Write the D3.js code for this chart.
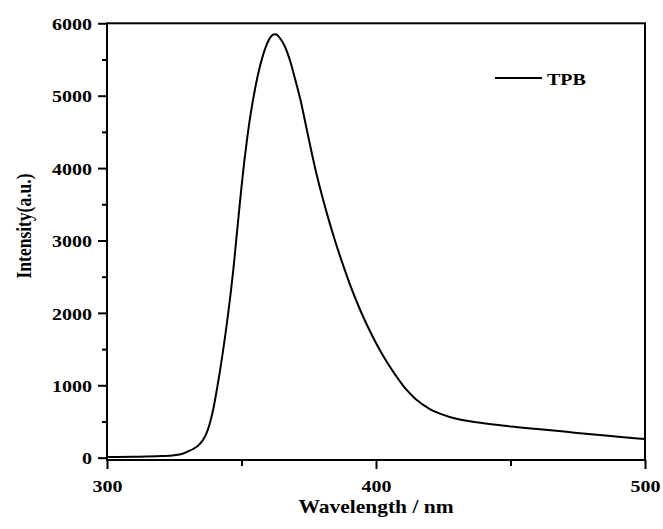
<!DOCTYPE html>
<html>
<head>
<meta charset="utf-8">
<script src="https://cdn.jsdelivr.net/npm/d3@7"></script>
<style>
  body { margin: 0; background: #fff; }
  text { font-family: "Liberation Serif", "Times New Roman", serif; font-weight: bold; fill: #000; }
</style>
</head>
<body>
<div id="chart"></div>
<script>
// spectrum
const wavelength = [300, 310, 320, 325, 328, 330, 332, 334, 335, 336, 337, 338, 339, 340, 341, 342,
    343, 344, 345, 346, 347, 348, 349, 350, 351, 352, 353, 354, 356, 358, 360, 361, 362, 363, 364,
    366, 368, 370, 372, 374, 376, 378, 380, 382, 384, 386, 388, 390, 392, 394, 396, 398, 400, 402,
    404, 406, 408, 410, 412, 414, 416, 418, 420, 424, 428, 432, 436, 440, 450, 460, 470, 480, 490, 500];
const intensity = [8, 12, 22, 35, 55, 85, 120, 170, 210, 265, 340, 445, 585, 765, 975, 1200,
    1440, 1700, 1980, 2280, 2610, 2990, 3370, 3740, 4080, 4380, 4650, 4880, 5270, 5560, 5760, 5820, 5850, 5845, 5810,
    5690, 5490, 5220, 4930, 4580, 4230, 3900, 3610, 3340, 3090, 2855, 2635, 2425, 2230, 2050, 1885, 1730, 1585, 1450,
    1325, 1210, 1100, 1000, 912, 836, 772, 718, 672, 605, 556, 520, 495, 476, 432, 396, 360, 323, 290, 258];
const seriesName = "TPB";
const xMajor = [300, 400, 500];
const xMinor = [350, 450];
const yMajor = [0, 1000, 2000, 3000, 4000, 5000, 6000];
const yMinor = [500, 1500, 2500, 3500, 4500, 5500];

const W = 663, H = 529;
const plot = { left: 107, right: 645, top: 23.3, bottom: 460 };
const squash = "scale(1,0.875)"; // the picture is a bit flattened vertically

const svg = d3.select("#chart").append("svg")
    .attr("width", W)
    .attr("height", H);

const x = d3.scaleLinear().domain([300, 500]).range([plot.left, plot.right]);
const y = d3.scaleLinear().domain([-32, 6000]).range([plot.bottom, plot.top]);

// y axis
const yAxis = svg.append("g").attr("transform", `translate(${plot.left},0)`)
    .call(d3.axisLeft(y).tickValues(yMajor).tickSize(9).tickFormat(d3.format("d")));
yAxis.select(".domain").remove();
yAxis.selectAll("line").attr("stroke", "#000").attr("stroke-width", 2);
yAxis.selectAll("text")
    .attr("x", -15).attr("dy", "0.35em")
    .attr("transform", squash)
    .style("font-size", "20px");

const yMinorAxis = svg.append("g").attr("transform", `translate(${plot.left},0)`)
    .call(d3.axisLeft(y).tickValues(yMinor).tickSize(5).tickFormat(""));
yMinorAxis.select(".domain").remove();
yMinorAxis.selectAll("line").attr("stroke", "#000").attr("stroke-width", 2);

// x axis
const xAxis = svg.append("g").attr("transform", `translate(0,${plot.bottom})`)
    .call(d3.axisBottom(x).tickValues(xMajor).tickSize(9).tickFormat(d3.format("d")));
xAxis.select(".domain").remove();
xAxis.selectAll("line").attr("stroke", "#000").attr("stroke-width", 2);
xAxis.selectAll("text")
    .attr("y", 0).attr("dy", null)
    .attr("transform", `translate(0,32) ${squash}`)
    .style("font-size", "20px");

const xMinorAxis = svg.append("g").attr("transform", `translate(0,${plot.bottom})`)
    .call(d3.axisBottom(x).tickValues(xMinor).tickSize(6).tickFormat(""));
xMinorAxis.select(".domain").remove();
xMinorAxis.selectAll("line").attr("stroke", "#000").attr("stroke-width", 2);

// frame
svg.append("rect")
    .attr("x", plot.left).attr("y", plot.top)
    .attr("width", plot.right - plot.left).attr("height", plot.bottom - plot.top)
    .attr("fill", "none")
    .attr("stroke", "#000")
    .attr("stroke-width", 2);

// curve
const data = wavelength.map((w, i) => ({ w: w, v: intensity[i] }));
const line = d3.line()
    .x(d => x(d.w))
    .y(d => y(d.v))
    .curve(d3.curveMonotoneX);

svg.append("path")
    .datum(data)
    .attr("d", line)
    .attr("fill", "none")
    .attr("stroke", "#000")
    .attr("stroke-width", 2);

// legend
svg.append("line")
    .attr("x1", 495).attr("x2", 542)
    .attr("y1", 78).attr("y2", 78)
    .attr("stroke", "#000")
    .attr("stroke-width", 2);
svg.append("text")
    .attr("transform", `translate(547,84.5) ${squash}`)
    .style("font-size", "20px")
    .text(seriesName);

// axis titles
svg.append("text")
    .attr("transform", `translate(${(plot.left + plot.right) / 2},513) ${squash}`)
    .attr("text-anchor", "middle")
    .style("font-size", "21.5px")
    .text("Wavelength / nm");

svg.append("text")
    .attr("transform", `translate(31,226) ${squash} rotate(-90)`)
    .attr("text-anchor", "middle")
    .style("font-size", "20px")
    .text("Intensity(a.u.)");
</script>
</body>
</html>
